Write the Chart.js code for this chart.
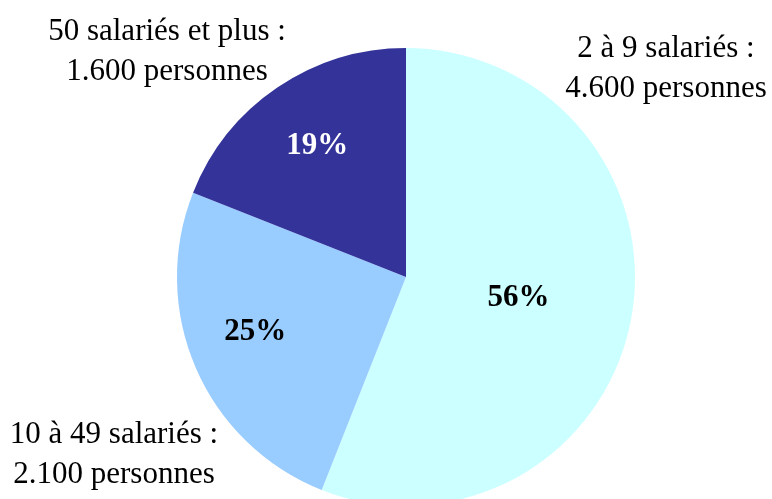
<!DOCTYPE html>
<html>
<head>
<meta charset="utf-8">
<script src="https://cdn.jsdelivr.net/npm/chart.js@4"></script>
<style>
    html, body { margin: 0; padding: 0; background: #fff; overflow: hidden; }
    #wrap { position: absolute; left: 0; top: 0; width: 772px; height: 554px; }
    .lbl {
        position: absolute;
        font-family: 'Liberation Serif', 'Times New Roman', serif;
        font-size: 31px;
        line-height: 40px;
        color: #000;
        text-align: center;
        white-space: nowrap;
        transform: translateX(-50%);
    }
</style>
</head>
<body>
<div id="wrap"><canvas id="pieChart"></canvas></div>
<div class="lbl" id="lbl0" style="left:666px; top:27px;"></div>
<div class="lbl" id="lbl1" style="left:114px; top:413px;"></div>
<div class="lbl" id="lbl2" style="left:167px; top:10px;"></div>
<script>
/* Répartition des effectifs par taille d'entreprise */
const categories = ['2 à 9 salariés', '10 à 49 salariés', '50 salariés et plus'];
const personnes = ['4.600', '2.100', '1.600'];
const percents = [56, 25, 19];
const colors = ['#CCFFFF', '#99CCFF', '#333399'];
const pctColors = ['#000000', '#000000', '#FFFFFF'];

// libellés extérieurs
categories.forEach((cat, i) => {
    document.getElementById('lbl' + i).innerHTML = cat + ' :<br>' + personnes[i] + ' personnes';
});

// pourcentages dans les parts
const pctLabels = {
    id: 'pctLabels',
    afterDatasetsDraw(chart, args, opts) {
        const ctx = chart.ctx;
        const meta = chart.getDatasetMeta(0);
        ctx.save();
        ctx.font = 'bold 31px "Liberation Serif", "Times New Roman", serif';
        ctx.textAlign = 'center';
        ctx.textBaseline = 'middle';
        meta.data.forEach((arc, i) => {
            const mid = (arc.startAngle + arc.endAngle) / 2 + opts.shift[i] * Math.PI / 180;
            const r = arc.outerRadius * opts.radius[i];
            ctx.fillStyle = pctColors[i];
            ctx.fillText(percents[i] + '%', arc.x + Math.cos(mid) * r, arc.y + Math.sin(mid) * r);
        });
        ctx.restore();
    }
};

new Chart(document.getElementById('pieChart').getContext('2d'), {
    type: 'pie',
    data: {
        labels: categories,
        datasets: [{ data: percents, backgroundColor: colors, borderWidth: 0 }]
    },
    options: {
        responsive: true,
        maintainAspectRatio: false,
        animation: false,
        layout: { padding: { left: 177, right: 137, top: 48, bottom: 48 } },
        plugins: {
            legend: { display: false },
            tooltip: { enabled: false },
            pctLabels: { radius: [0.5, 0.7, 0.69], shift: [0, 3.4, 0] }
        }
    },
    plugins: [pctLabels]
});
</script>
</body>
</html>
